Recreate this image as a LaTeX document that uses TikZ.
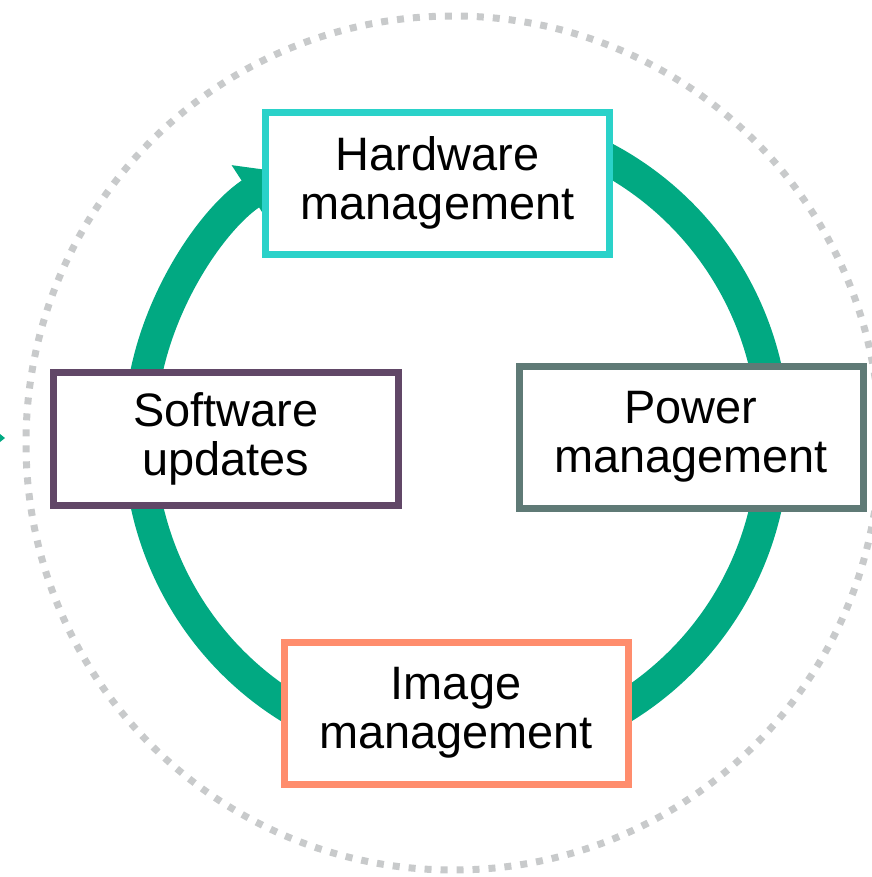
\documentclass[tikz,border=0pt]{standalone}
\usepackage{fontspec}
\setmainfont{Liberation Sans}
\usepackage{xcolor}
\usepackage{tikz}
\usetikzlibrary{arrows.meta}
\definecolor{cgreen}{HTML}{01A982}
\definecolor{ccyan}{HTML}{2AD2C9}
\definecolor{cslate}{HTML}{5F7A76}
\definecolor{csalmon}{HTML}{FF8D6D}
\definecolor{cplum}{HTML}{614767}
\definecolor{cdots}{HTML}{C8CACB}
\tikzset{
  cyc/.style={x=0.2mm, y=-0.2mm, font=\fontsize{26.7}{27.9}\selectfont},
  c box/.style={draw, fill=white, line width=1.4mm, align=center,
                minimum width=68.8mm, minimum height=28.4mm, inner sep=0pt},
  c dots/.style={draw=cdots, line width=1.4mm, dash pattern=on 1.4mm off 1.8mm},
  c ring/.style={draw=cgreen, line width=6.4mm,
                 -{Triangle[width=13.2mm, length=8mm]}},
}
\begin{document}
\begin{tikzpicture}[cyc]
\useasboundingbox (0,0) rectangle (871,877);
% ---- outer dotted circle ----
\coordinate (dotc) at (453,443);
\draw[c dots] (dotc) circle[radius=85.4mm];
\fill[cgreen] (0,434) -- (5,438) -- (0,442) -- cycle;
% ---- green cycle ----
\coordinate (ringc) at (456.5,438);
\draw[c ring] (ringc) ++(75:63.4mm) arc[start angle=75, end angle=-237, radius=63.4mm];
% ---- stages ----
\node[c box, draw=ccyan]   (hw)  at (437.5,183) {Hardware\\management};
\node[c box, draw=cslate]  (pwr) at (691,437)   {Power\\management};
\node[c box, draw=csalmon] (img) at (456,713)   {Image\\management};
\node[c box, draw=cplum, minimum height=26.6mm] (sw) at (226,438.5) {Software\\updates};
\end{tikzpicture}
\end{document}
